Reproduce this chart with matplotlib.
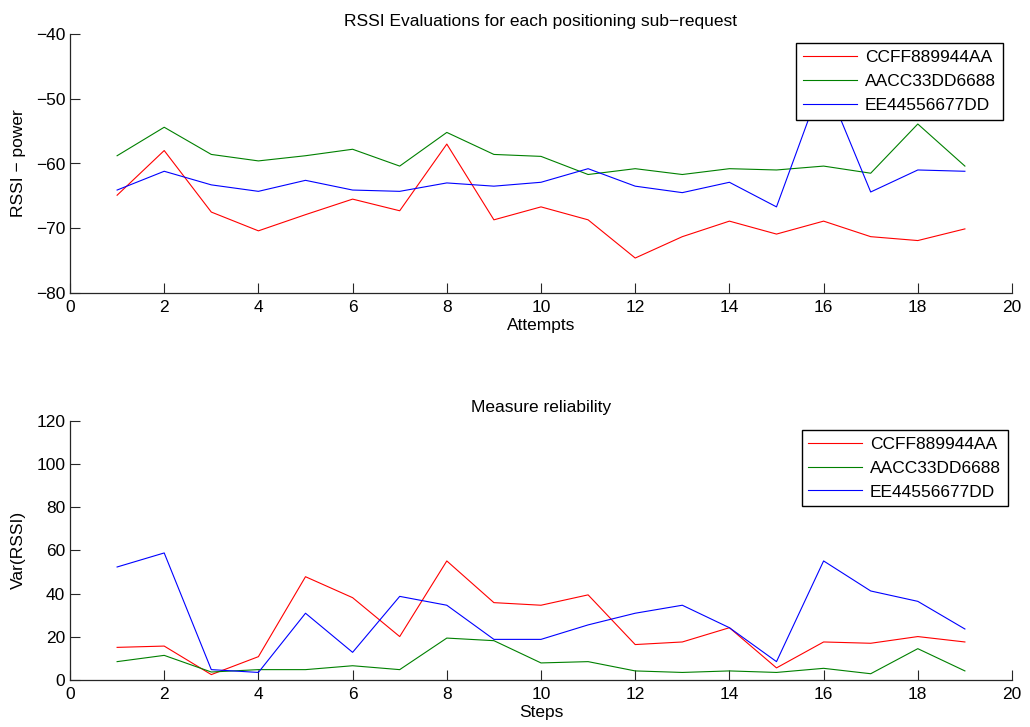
import matplotlib
matplotlib.use("Agg")
import matplotlib.pyplot as plt
import numpy as np

plt.rcParams['font.family'] = ['Liberation Sans', 'DejaVu Sans']
plt.rcParams['axes.unicode_minus'] = True

# Device identifiers
devices = ["CCFF889944AA", "AACC33DD6688", "EE44556677DD"]
colors = ["#ff0000", "#008000", "#0000ff"]

attempts = list(range(1, 20))

# RSSI readings per attempt (dBm)
rssi_ccff = [-64.9, -58.0, -67.5, -70.4, -67.9, -65.5, -67.3, -57.0, -68.7, -66.7,
             -68.7, -74.6, -71.3, -68.9, -70.9, -68.9, -71.3, -71.9, -70.1]
rssi_aacc = [-58.8, -54.4, -58.6, -59.6, -58.8, -57.8, -60.4, -55.2, -58.6, -58.9,
             -61.7, -60.8, -61.7, -60.8, -61.0, -60.4, -61.5, -53.9, -60.4]
rssi_ee44 = [-64.1, -61.2, -63.3, -64.3, -62.6, -64.1, -64.3, -63.0, -63.5, -62.9,
             -60.8, -63.5, -64.5, -62.9, -66.7, -46.8, -64.4, -61.0, -61.2]

# Variance of RSSI per step
var_ccff = [15.1, 15.7, 2.5, 10.8, 47.8, 38.1, 20.1, 55.1, 35.8, 34.6,
            39.4, 16.4, 17.6, 24.2, 5.6, 17.6, 17.0, 20.1, 17.6]
var_aacc = [8.5, 11.4, 3.7, 4.8, 4.8, 6.6, 4.8, 19.4, 18.2, 7.9,
            8.5, 4.2, 3.5, 4.2, 3.5, 5.4, 2.9, 14.5, 4.2]
var_ee44 = [52.3, 58.8, 4.8, 3.5, 30.9, 12.8, 38.7, 34.6, 18.8, 18.8,
            25.5, 30.9, 34.6, 24.2, 8.5, 55.1, 41.2, 36.4, 23.6]

FS = 12.5
W, H = 1030, 727
fig = plt.figure(figsize=(W / 100, H / 100), dpi=100)

def frame(left, top, right, bottom):
    return [left / W, 1 - bottom / H, (right - left) / W, (bottom - top) / H]

ax1 = fig.add_axes(frame(70, 34, 1012, 293))
ax2 = fig.add_axes(frame(70, 420.7, 1012, 680))

spine_col = "#262626"

def style(ax):
    for s in ("top", "right"):
        ax.spines[s].set_visible(False)
    for s in ("left", "bottom"):
        ax.spines[s].set_color(spine_col)
        ax.spines[s].set_linewidth(0.9)
    ax.tick_params(direction="in", length=7, width=0.8, color=spine_col,
                   labelsize=FS)
    ax.tick_params(axis="x", pad=5)
    ax.tick_params(axis="y", pad=3.5)
    ax.set_xlim(0, 20)
    ax.set_xticks(np.arange(0, 21, 2))

def add_legend(ax, anchor):
    leg = ax.legend(loc="upper right", bbox_to_anchor=anchor, borderaxespad=0,
                    fontsize=FS, fancybox=False, framealpha=1, edgecolor="black",
                    handlelength=3.1, handletextpad=0.45, borderpad=0.4,
                    labelspacing=0.5)
    leg.get_frame().set_linewidth(1.0)

for y, c, name in zip([rssi_ccff, rssi_aacc, rssi_ee44], colors, devices):
    ax1.plot(attempts, y, color=c, lw=0.8, label=name)
style(ax1)
ax1.set_ylim(-80, -40)
ax1.set_yticks(np.arange(-80, -39, 10))
ax1.set_title("RSSI Evaluations for each positioning sub\u2212request", fontsize=FS, pad=6)
ax1.set_xlabel("Attempts", fontsize=FS, labelpad=2)
ax1.set_ylabel("RSSI \u2212 power", fontsize=FS, labelpad=7)
add_legend(ax1, (0.9904, 0.964))

for y, c, name in zip([var_ccff, var_aacc, var_ee44], colors, devices):
    ax2.plot(attempts, y, color=c, lw=0.8, label=name)
style(ax2)
ax2.set_ylim(0, 120)
ax2.set_yticks(np.arange(0, 121, 20))
ax2.set_title("Measure reliability", fontsize=FS, pad=6)
ax2.set_xlabel("Steps", fontsize=FS, labelpad=2)
ax2.set_ylabel("Var(RSSI)", fontsize=FS, labelpad=7)
add_legend(ax2, (0.9958, 0.965))

fig.savefig("out.png", dpi=100, facecolor="white")
